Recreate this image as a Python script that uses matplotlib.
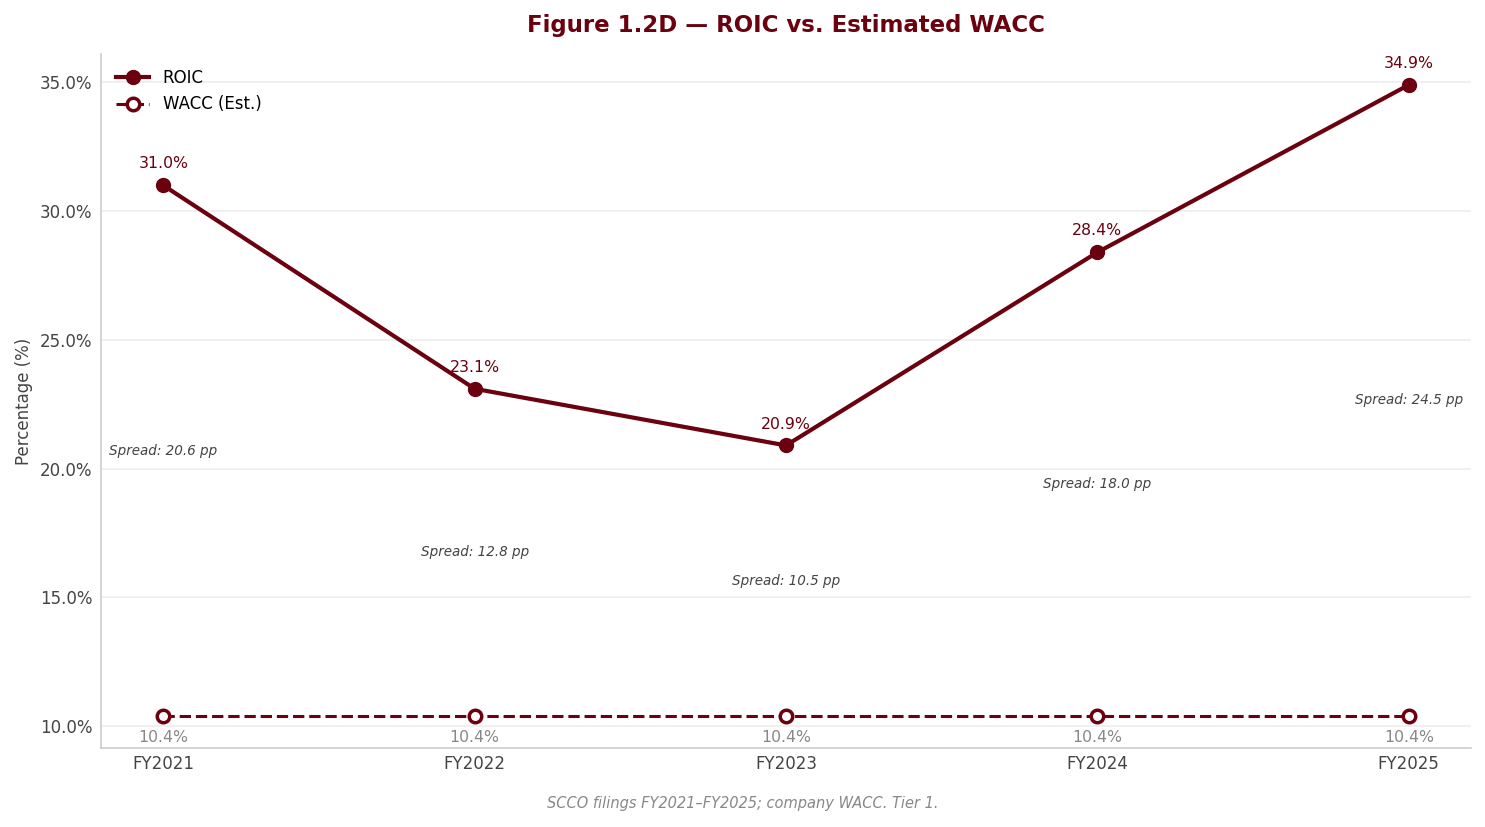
import matplotlib
matplotlib.use("Agg")
import matplotlib.pyplot as plt
from matplotlib.ticker import FuncFormatter

dark_red = '#6b000f'

years = ["FY2021", "FY2022", "FY2023", "FY2024", "FY2025"]
roic = [31.0, 23.1, 20.9, 28.4, 34.9]
wacc = [10.4, 10.4, 10.4, 10.4, 10.4]
spreads = [20.6, 12.8, 10.5, 18.0, 24.5]

fig = plt.figure(figsize=(14.85, 8.27), dpi=100)
ax = fig.add_axes([0.068, 0.0955, 0.9226, 0.8392])

x = list(range(len(years)))
ax.plot(x, roic, color=dark_red, lw=3, marker='o', ms=10, label='ROIC', zorder=3)
ax.plot(x, wacc, color=dark_red, lw=2.2, ls='--', marker='o', ms=9,
        mfc='white', mec=dark_red, mew=2.5, label='WACC (Est.)', zorder=3)

# value labels
for xi, v in zip(x, roic):
    ax.annotate(f"{v:.1f}%", (xi, v), xytext=(0, 10), textcoords='offset points',
                ha='center', va='bottom', color=dark_red, fontsize=11.3)
for xi, v in zip(x, wacc):
    ax.annotate(f"{v:.1f}%", (xi, v), xytext=(0, -10), textcoords='offset points',
                ha='center', va='top', color='#888888', fontsize=11.3)

# spread labels at midpoint
for xi, r, w, s in zip(x, roic, wacc, spreads):
    ax.text(xi, (r + w) / 2, f"Spread: {s:.1f} pp", ha='center', va='center',
            fontsize=9.75, style='italic', color='#444444')

ax.set_xticks(x)
ax.set_xticklabels(years)
ax.set_xlim(-0.2, 4.2)
ax.set_ylim(9.15, 36.1)
ax.yaxis.set_major_formatter(FuncFormatter(lambda v, p: f"{v:.1f}%"))
ax.tick_params(axis='both', length=0, labelsize=12, colors='#444444')
ax.tick_params(axis='x', pad=5)
ax.tick_params(axis='y', pad=6)
ax.set_ylabel("Percentage (%)", fontsize=12, color='#444444', labelpad=5)

ax.grid(axis='y', color='#eeeeee', lw=1.2)
ax.set_axisbelow(True)
for sp in ['top', 'right']:
    ax.spines[sp].set_visible(False)
for sp in ['left', 'bottom']:
    ax.spines[sp].set_color('#cccccc')
    ax.spines[sp].set_linewidth(1.2)

ax.legend(loc='upper left', frameon=False, fontsize=12)

ax.set_title("Figure 1.2D — ROIC vs. Estimated WACC", fontsize=16.5, fontweight='bold',
             color=dark_red, pad=15.5)
fig.text(0.5, 0.028, "SCCO filings FY2021–FY2025; company WACC. Tier 1.",
         ha='center', va='center', fontsize=10.5, style='italic', color='#888888')

fig.savefig("out.png", dpi=100)
